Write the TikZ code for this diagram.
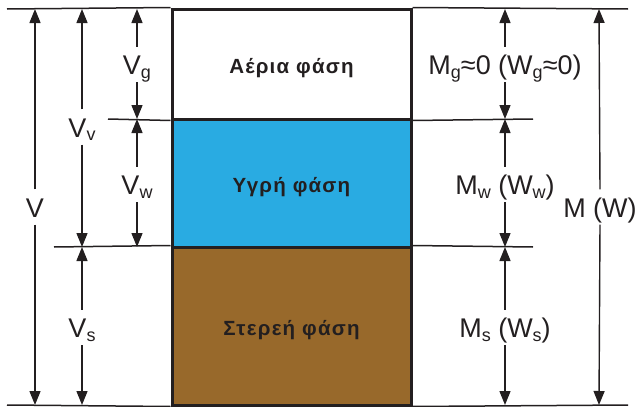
\documentclass[tikz,border=0pt]{standalone}
\usepackage{fontspec}
\setmainfont{Liberation Sans}
\usetikzlibrary{arrows.meta}
\definecolor{ink}{HTML}{231F20}
\definecolor{liq}{HTML}{29ABE2}
\definecolor{sol}{HTML}{98692B}
\newcommand\sbs[1]{\raisebox{-3.5pt}{\fontsize{18}{18}\selectfont #1}}
\begin{document}
\begin{tikzpicture}[x=1pt,y=-1pt,
  thin line/.style={draw=ink,line width=1.5pt},
  dimarrow/.style={draw=ink,line width=1.4pt,-{Triangle[length=14pt,width=11pt]}},
  dimlabel/.style={text=ink,font=\fontsize{27}{27}\selectfont,inner xsep=0pt,inner ysep=7.5pt,text height=20pt,text depth=0pt},
  phase/.style={draw=ink,line width=3pt,minimum width=239pt,inner sep=0pt,text=ink,text height=18pt,text depth=0pt,font=\fontsize{20.5}{20.5}\selectfont\bfseries\addfontfeatures{LetterSpace=6}}
]
\useasboundingbox (0,0) rectangle (638,407);
% phases
\node[phase,fill=white,minimum height=110pt] (gas) at (291.5,64) {Αέρια φάση};
\node[phase,fill=liq,minimum height=128pt] (liquid) at (291.5,183) {Υγρή φάση};
\node[phase,fill=sol,minimum height=158pt] (solid) at (291.5,326) {Στερεή φάση};
% level lines
\coordinate (tl) at (7,9);   \coordinate (tr) at (628,9);
\coordinate (bl) at (7,405); \coordinate (br) at (628,405);
\coordinate (gll) at (108,119); \coordinate (glr) at (533,119);
\coordinate (lsl) at (54,247);  \coordinate (lsr) at (533,247);
\draw[thin line] (tl) -- (gas.north west);
\draw[thin line] (gas.north east) -- (tr);
\draw[thin line] (bl) -- (solid.south west);
\draw[thin line] (solid.south east) -- (br);
\draw[thin line] (gll) -- (gas.south west);
\draw[thin line] (gas.south east) -- (glr);
\draw[thin line] (lsl) -- (solid.north west);
\draw[thin line] (solid.north east) -- (lsr);
% end points of dimension arrows
\coordinate (V1) at (35,9);   \coordinate (V2) at (35,405);
\coordinate (Vv1) at (82,9);  \coordinate (Vv2) at (82,247);
\coordinate (Vs1) at (82,247); \coordinate (Vs2) at (82,405);
\coordinate (Vg1) at (137,9); \coordinate (Vg2) at (137,119);
\coordinate (Vw1) at (137,119); \coordinate (Vw2) at (137,247);
\coordinate (Mg1) at (505,9); \coordinate (Mg2) at (505,119);
\coordinate (Mw1) at (505,119); \coordinate (Mw2) at (505,247);
\coordinate (Ms1) at (505,247); \coordinate (Ms2) at (505,405);
\coordinate (M1) at (599,9);  \coordinate (M2) at (599,405);
% labels
\node[dimlabel] (V) at (35,207) {V};
\node[dimlabel] (Vv) at (82,127) {V\sbs{v}};
\node[dimlabel] (Vs) at (82,327.5) {V\sbs{s}};
\node[dimlabel] (Vg) at (137,64.5) {V\sbs{g}};
\node[dimlabel] (Vw) at (137,184.5) {V\sbs{w}};
\node[dimlabel] (Mg) at (505,64.5) {M\sbs{g}≈0 (W\sbs{g}≈0)};
\node[dimlabel] (Mw) at (505,184.5) {M\sbs{w} (W\sbs{w})};
\node[dimlabel] (Ms) at (505,327.5) {M\sbs{s} (W\sbs{s})};
\node[dimlabel] (M) at (600,207) {M (W)};
% arrows
\foreach \n in {V,Vv,Vs,Vg,Vw,Mg,Mw,Ms,M}{
  \draw[dimarrow] (\n.north) -- (\n1);
  \draw[dimarrow] (\n.south) -- (\n2);
}
\end{tikzpicture}
\end{document}
